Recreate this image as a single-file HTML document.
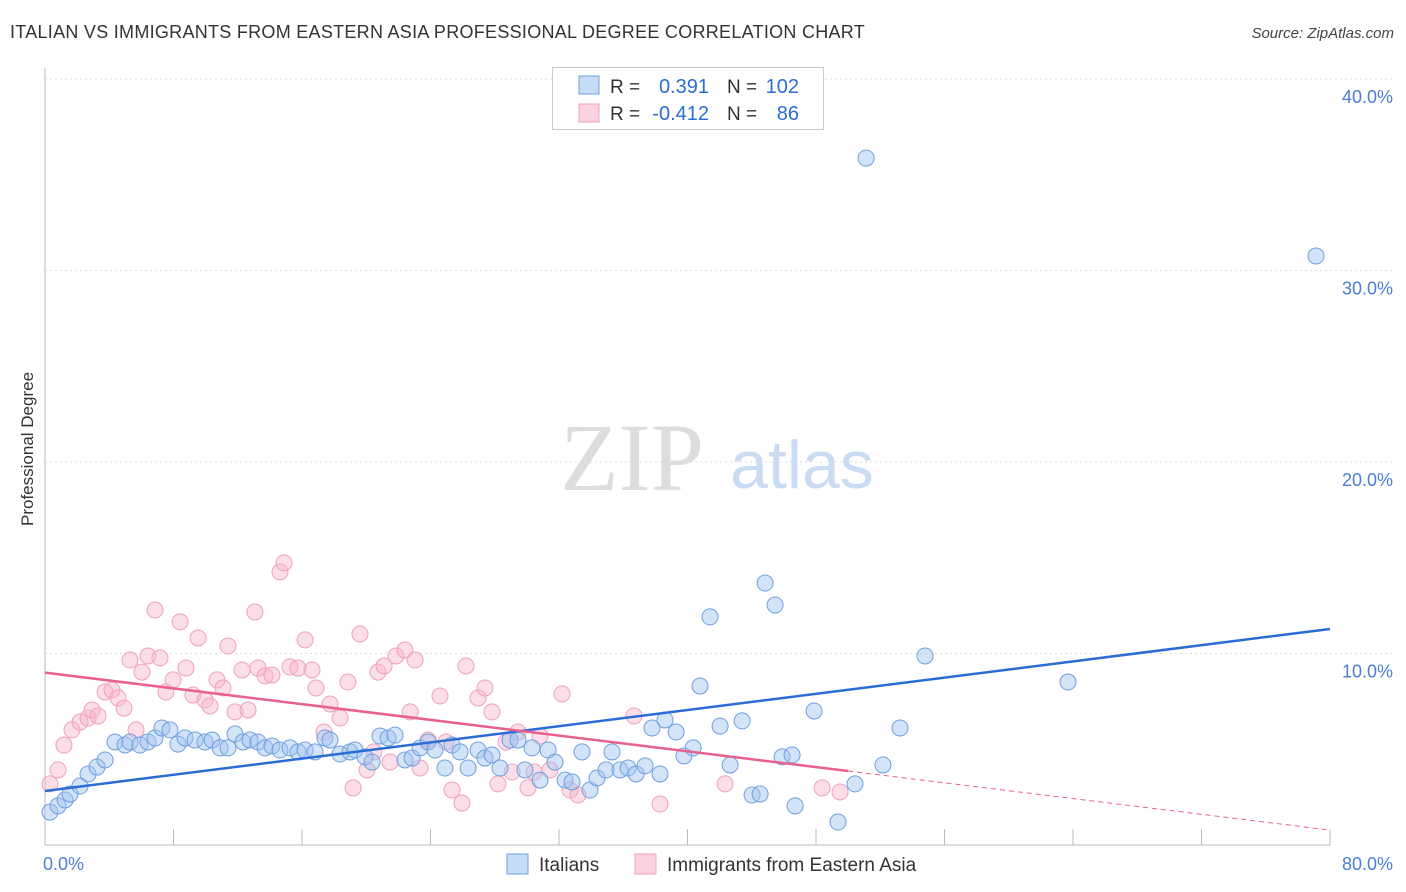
<!DOCTYPE html>
<html><head><meta charset="utf-8">
<style>
body{margin:0;background:#fff;font-family:"Liberation Sans",sans-serif;}
#wrap{position:relative;width:1406px;height:892px;overflow:hidden;}
.t{position:absolute;white-space:nowrap;}
</style></head>
<body>
<div id="wrap">
<div class="t" style="left:10px;top:22px;font-size:18px;color:#333;letter-spacing:0.28px;">ITALIAN VS IMMIGRANTS FROM EASTERN ASIA PROFESSIONAL DEGREE CORRELATION CHART</div>
<div class="t" style="right:12px;top:25px;font-size:15px;color:#444;font-style:italic;">Source: ZipAtlas.com</div>
<div class="t" style="left:-42px;top:446px;font-size:17px;color:#333;transform:rotate(-90deg);transform-origin:center;width:140px;text-align:center;">Professional Degree</div>
<svg id="plot" width="1406" height="892" style="position:absolute;left:0;top:0"></svg>
</div>
<script>
const italiansX=[0.31,0.81,1.25,1.56,2.18,2.68,3.24,3.74,4.36,4.98,5.29,5.91,6.41,6.85,7.28,7.78,8.28,8.72,9.34,9.96,10.40,10.90,11.39,11.83,12.33,12.76,13.26,13.70,14.13,14.63,15.25,15.75,16.19,16.81,17.43,17.74,18.37,18.99,19.30,19.92,20.36,20.86,21.36,21.79,22.41,22.85,23.35,23.85,24.28,24.90,25.34,25.84,26.34,26.96,27.39,27.83,28.33,28.95,29.45,29.88,30.32,30.82,31.32,31.75,32.38,32.81,33.43,33.93,34.37,34.93,35.30,35.80,36.30,36.80,37.36,37.79,38.29,38.60,39.29,39.78,40.35,40.78,41.40,42.03,42.65,43.40,44.02,44.52,44.83,45.45,45.89,46.51,46.70,47.88,49.37,50.43,51.12,52.17,53.23,54.79,63.69,79.13];
const italiansY=[1.72,2.04,2.35,2.66,3.08,3.71,4.07,4.44,5.38,5.22,5.38,5.22,5.38,5.59,6.11,6.01,5.27,5.59,5.48,5.38,5.48,5.07,5.07,5.80,5.38,5.48,5.38,5.07,5.17,4.96,5.07,4.86,4.96,4.86,5.59,5.48,4.75,4.86,4.96,4.60,4.33,5.69,5.59,5.74,4.44,4.54,5.07,5.38,4.96,4.02,5.22,4.86,4.02,4.96,4.54,4.70,4.02,5.48,5.48,3.92,5.07,3.39,4.96,4.33,3.39,3.29,4.86,2.87,3.50,3.92,4.86,3.92,4.02,3.71,4.13,6.11,3.71,6.53,5.90,4.65,5.07,8.30,11.91,6.21,4.18,6.48,2.61,2.66,13.68,12.53,4.60,4.70,2.04,7.00,1.20,3.19,35.87,4.18,6.11,9.87,8.51,30.76];
const asiaX=[0.31,0.81,1.18,1.68,2.18,2.68,2.93,3.30,3.74,4.17,4.55,4.92,5.29,5.67,6.04,6.41,6.85,7.16,7.53,7.97,8.41,8.78,9.21,9.53,9.96,10.27,10.71,11.08,11.39,11.83,12.27,12.64,13.07,13.26,13.70,14.13,14.63,14.88,15.25,15.75,16.19,16.62,16.87,17.37,17.74,18.37,18.86,19.18,19.61,20.05,20.48,20.73,21.11,21.48,21.85,22.41,22.73,23.04,23.35,23.85,24.59,24.97,25.34,25.96,26.21,26.96,27.39,27.83,28.20,28.70,29.08,29.45,30.07,30.45,30.82,31.44,32.19,32.69,33.18,36.67,38.29,42.34,48.38,49.50];
const asiaY=[3.19,3.92,5.22,6.01,6.42,6.63,7.05,6.74,7.99,8.09,7.68,7.15,9.66,6.01,9.03,9.87,12.27,9.77,7.99,8.62,11.65,9.24,7.83,10.81,7.57,7.26,8.62,8.20,10.39,6.95,9.14,7.05,12.17,9.24,8.83,8.88,14.26,14.73,9.30,9.24,10.71,9.14,8.20,5.90,7.36,6.63,8.51,2.98,11.02,3.92,4.86,9.03,9.35,4.33,9.87,10.18,6.95,9.66,4.02,5.48,7.78,5.38,2.87,2.19,9.35,7.68,8.20,6.95,3.19,5.38,3.81,5.90,2.98,3.81,5.69,3.92,7.89,2.87,2.61,6.74,2.14,3.19,2.98,2.77];
const italiansTrend=[2.82,11.28];
const asiaTrend=[9.0,0.78];
const yTicks=[10,20,30,40];
const yTickLabels=["10.0%","20.0%","30.0%","40.0%"];
const xTickLabels=["0.0%","80.0%"];

const X0=45,X1=1330,Y0=845,PY=19.15;
const sx=v=>X0+(v/80)*(X1-X0);
const sy=v=>Y0-v*PY;
const NS="http://www.w3.org/2000/svg";
const svg=document.getElementById('plot');
function mk(tag,attrs,parent){const e=document.createElementNS(NS,tag);for(const k in attrs)e.setAttribute(k,attrs[k]);(parent||svg).appendChild(e);return e;}

yTicks.forEach((t,i)=>{
  const g=mk('line',{x1:X0,x2:1395,y1:sy(t),y2:sy(t),stroke:'#ddd','stroke-dasharray':'2,3'});
  
  
  const tx=mk('text',{x:1393,y:sy(t)+24,'text-anchor':'end','font-size':18,fill:'#4a7fd4'});
  tx.textContent=yTickLabels[i];
  
  
});
let a=mk('line',{x1:X0,x2:X0,y1:68,y2:Y0,stroke:'#bbb'});


a=mk('line',{x1:X0,x2:X1,y1:Y0,y2:Y0,stroke:'#bbb'});


for(let i=0;i<=10;i++){
  const t=mk('line',{x1:sx(i*8),x2:sx(i*8),y1:Y0,y2:Y0-16,stroke:'#bbb'});
  
  
}
[[0,X0-2,'start'],[1,1393,'end']].forEach(([i,x,anc])=>{
  const t=mk('text',{x:x,y:870,'text-anchor':anc,'font-size':18,fill:'#4a7fd4'});
  t.textContent=xTickLabels[i];
  
  
});
let w=mk('text',{x:632,y:490,'text-anchor':'middle','font-size':96,fill:'#ddd','font-family':'Liberation Serif, serif'});
w.textContent='ZIP';


w=mk('text',{x:802,y:488,'text-anchor':'middle','font-size':68,fill:'#c9dcf3'});
w.textContent='atlas';



function pts(xs,ys,fill,stroke,name){
  xs.forEach((x,i)=>{
    const c=mk('circle',{cx:sx(x),cy:sy(ys[i]),r:8,fill:fill,stroke:stroke,'stroke-width':1});
    
    
  });
}
pts(asiaX,asiaY,'rgba(248,182,204,0.45)','#f0a0bc','point-eastern-asia');
pts(italiansX,italiansY,'rgba(160,196,240,0.45)','#6f9fe0','point-italians');

let l=mk('line',{x1:sx(0),y1:sy(italiansTrend[0]),x2:sx(80),y2:sy(italiansTrend[1]),stroke:'#2a6dd6','stroke-width':2.5});


const ay=v=>asiaTrend[0]+(asiaTrend[1]-asiaTrend[0])*v/80;
l=mk('line',{x1:sx(0),y1:sy(ay(0)),x2:sx(50),y2:sy(ay(50)),stroke:'#e8608e','stroke-width':2.5});


l=mk('line',{x1:sx(50),y1:sy(ay(50)),x2:sx(80),y2:sy(ay(80)),stroke:'#e8608e','stroke-width':1,'stroke-dasharray':'5,4'});



const lg=mk('g',{});


mk('rect',{x:552.5,y:67.5,width:271,height:62,fill:'#fff',stroke:'#ccc'},lg);
mk('rect',{x:579,y:76,width:20,height:18,fill:'rgba(160,196,240,0.6)',stroke:'#6f9fe0'},lg);
mk('rect',{x:579,y:104,width:20,height:18,fill:'rgba(248,182,204,0.6)',stroke:'#f0a0bc'},lg);
[[93,'R = ','0.391','N = ','102'],[120,'R = ','-0.412','N = ',' 86']].forEach(r=>{
  let t=mk('text',{x:610,y:r[0],'font-size':19,fill:'#333'},lg);t.textContent=r[1];
  t=mk('text',{x:709,y:r[0],'font-size':20,fill:'#2a6dd6','text-anchor':'end'},lg);t.textContent=r[2];
  t=mk('text',{x:727,y:r[0],'font-size':19,fill:'#333'},lg);t.textContent=r[3];
  t=mk('text',{x:799,y:r[0],'font-size':20,fill:'#2a6dd6','text-anchor':'end'},lg);t.textContent=r[4];
});
const bl=mk('g',{});


mk('rect',{x:507,y:854,width:21,height:20,fill:'rgba(160,196,240,0.6)',stroke:'#6f9fe0'},bl);
let t=mk('text',{x:539,y:871,'font-size':19,fill:'#333'},bl);t.textContent='Italians';
mk('rect',{x:635,y:854,width:21,height:20,fill:'rgba(248,182,204,0.6)',stroke:'#f0a0bc'},bl);
t=mk('text',{x:667,y:871,'font-size':19,fill:'#333'},bl);t.textContent='Immigrants from Eastern Asia';
</script>
</body></html>
